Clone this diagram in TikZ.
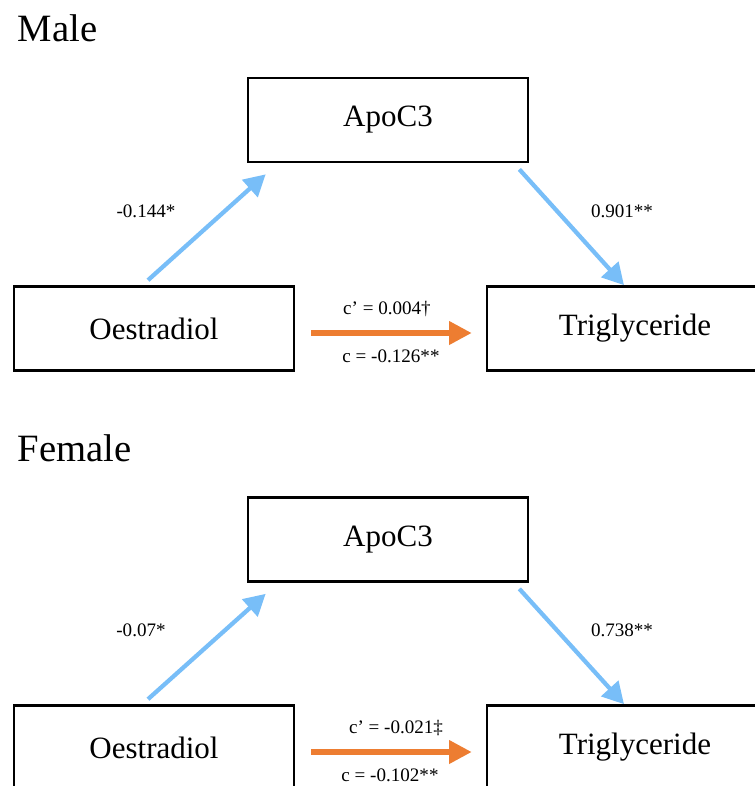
\documentclass[tikz,border=0pt]{standalone}
\usepackage{fontspec}
\setmainfont{Liberation Serif}
\usetikzlibrary{arrows.meta,calc}
\definecolor{pathblue}{RGB}{120,190,248}
\definecolor{pathorange}{RGB}{237,125,49}
\begin{document}
\begin{tikzpicture}[x=0.75pt, y=-0.75pt,
  box/.style={draw, line width=2pt, minimum width=210pt, minimum height=63pt, inner sep=0pt, font=\fontsize{23.25}{28}\selectfont},
  title/.style={anchor=base west, font=\fontsize{29}{34}\selectfont},
  coef/.style={font=\fontsize{14.3}{17}\selectfont},
  apath/.style={pathblue, line width=3.2pt, -{Triangle[length=16pt, width=17pt]}},
  cpath/.style={pathorange, line width=3.9pt, -{Triangle[length=17pt, width=17pt]}}]
\clip (0,0) rectangle (755,786);
% Male
\node at (13,41) [title]{Male};
\node (apoM) at (388,120) [box]{ApoC3};
\node (oesM) at (154,328.5) [box]{Oestradiol};
\node (triM) at (635,328.5) [box, minimum width=222pt]{Triglyceride};
\draw[apath] ($(oesM.north)+(-6,-5)$) -- ($(apoM.south west)+(19,11)$);
\draw[apath] ($(apoM.south east)+(-10,6)$) -- ($(triM.north)+(-11,0)$);
\draw[cpath] ($(oesM.east)+(16,4.5)$) -- ($(triM.west)+(-14,4.5)$);
\node at (146,211) [coef]{-0.144*};
\node at (622,211) [coef]{0.901**};
\node at (387,309) [coef]{c’ = 0.004†};
\node at (391,356) [coef]{c = -0.126**};
% Female
\node at (13,461) [title]{Female};
\node (apoF) at (388,539.5) [box]{ApoC3};
\node (oesF) at (154,747.5) [box]{Oestradiol};
\node (triF) at (635,747.5) [box, minimum width=222pt]{Triglyceride};
\draw[apath] ($(oesF.north)+(-6,-5)$) -- ($(apoF.south west)+(19,11)$);
\draw[apath] ($(apoF.south east)+(-10,6)$) -- ($(triF.north)+(-11,0)$);
\draw[cpath] ($(oesF.east)+(16,4.5)$) -- ($(triF.west)+(-14,4.5)$);
\node at (141,630) [coef]{-0.07*};
\node at (622,630) [coef]{0.738**};
\node at (396,728) [coef]{c’ = -0.021‡};
\node at (390,775) [coef]{c = -0.102**};
\end{tikzpicture}
\end{document}
